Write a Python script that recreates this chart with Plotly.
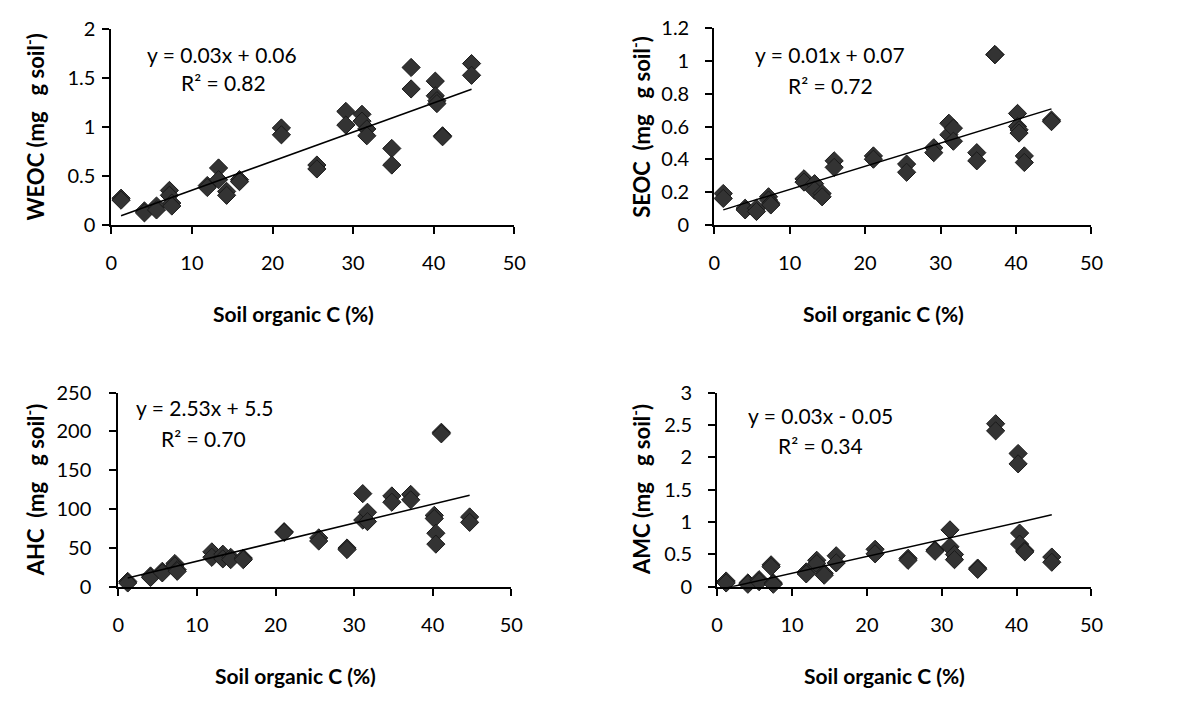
import plotly.graph_objects as go

# Soil organic C (%) for each sample (sites x 2 replicates)
soc = [1.2, 1.2, 4.1, 4.1, 5.6, 5.6, 7.2, 7.2, 7.5, 7.5,
       11.9, 11.9, 13.3, 13.3, 14.3, 14.3, 15.9, 15.9, 21.1, 21.1,
       25.5, 25.5, 29.1, 29.1, 31.1, 31.1, 31.7, 31.7, 34.8, 34.8,
       37.2, 37.2, 40.2, 40.2, 40.4, 40.4, 41.1, 41.1, 44.7, 44.7]

weoc = [0.27, 0.25, 0.14, 0.12, 0.19, 0.15, 0.35, 0.30, 0.22, 0.19,
        0.40, 0.38, 0.58, 0.46, 0.34, 0.30, 0.46, 0.44, 0.99, 0.92,
        0.61, 0.57, 1.16, 1.02, 1.13, 1.06, 0.98, 0.91, 0.78, 0.61,
        1.61, 1.39, 1.47, 1.32, 1.27, 1.24, 0.91, 0.90, 1.65, 1.53]

seoc = [0.19, 0.16, 0.10, 0.09, 0.10, 0.08, 0.17, 0.15, 0.13, 0.12,
        0.28, 0.26, 0.25, 0.21, 0.19, 0.17, 0.39, 0.35, 0.42, 0.40,
        0.37, 0.32, 0.47, 0.44, 0.62, 0.55, 0.59, 0.51, 0.44, 0.39,
        1.04, 1.04, 0.68, 0.60, 0.58, 0.56, 0.42, 0.38, 0.64, 0.63]

ahc = [7, 5, 14, 12, 20, 18, 30, 27, 22, 20,
       45, 38, 42, 36, 38, 35, 37, 35, 71, 70,
       63, 59, 50, 48, 120, 86, 96, 84, 117, 109,
       119, 112, 92, 88, 69, 55, 199, 197, 90, 83]

amc = [0.09, 0.06, 0.06, 0.04, 0.11, 0.08, 0.34, 0.31, 0.06, 0.04,
       0.23, 0.20, 0.41, 0.36, 0.21, 0.18, 0.48, 0.37, 0.58, 0.51,
       0.44, 0.41, 0.57, 0.55, 0.88, 0.62, 0.50, 0.42, 0.29, 0.27,
       2.52, 2.41, 2.06, 1.90, 0.83, 0.66, 0.56, 0.54, 0.46, 0.38]

# trend lines (slope, intercept) as drawn
fit_slope = [0.0298, 0.0142, 2.45, 0.026]
fit_intercept = [0.054, 0.073, 8.5, -0.05]

equations = ["y = 0.03x + 0.06", "y = 0.01x + 0.07", "y = 2.53x + 5.5", "y = 0.03x - 0.05"]
r2_labels = ["R² = 0.82", "R² = 0.72", "R² = 0.70", "R² = 0.34"]

SP = "\u00a0"
ytitles = ["WEOC (mg" + SP * 3 + "g soil<sup>-</sup>)",
           "SEOC" + SP * 2 + "(mg" + SP * 3 + "g soil<sup>-</sup>)",
           "AHC" + SP * 2 + "(mg" + SP * 3 + "g soil<sup>-</sup>)",
           "AMC (mg" + SP * 3 + "g soil<sup>-</sup>)"]
xtitle = "Soil organic C (%)"

yranges = [[0, 2], [0, 1.2], [0, 250], [0, 3]]
ydticks = [0.5, 0.2, 50, 0.5]

W, H = 1200, 707
# plot areas in pixels: (x0, x1, ytop, ybottom)
areas = [(107, 516, 17, 219), (719, 1102, 16, 219), (114, 513, 393, 594), (722, 1102, 393, 594)]
ytitle_x = [29, 644, 29, 644]
ylab_standoff = [3, 12, 14, 12]
eq_pos = [((219, 43), (221, 72)), ((837, 43), (837, 75)), ((202, 408), (201, 440)), ((827, 417), (827, 448))]

FONT = "Lato"
TICK = 20
TXT = 21
yseries = [weoc, seoc, ahc, amc]

fig = go.Figure()
annotations = []
layout = {}
for i in range(4):
    n = "" if i == 0 else str(i + 1)
    x0, x1, yt, yb = areas[i]
    xa = dict(domain=[x0 / W, x1 / W], range=[0, 50], dtick=10, showgrid=False, zeroline=False,
              showline=True, linecolor="black", linewidth=2, ticks="outside", ticklen=7,
              tickwidth=2, tickcolor="black", ticklabelstandoff=12,
              tickfont=dict(family=FONT, size=TICK, color="black"), anchor="y" + n)
    ya = dict(domain=[(H - yb) / H, (H - yt) / H], range=yranges[i], dtick=ydticks[i],
              showgrid=False, zeroline=False, showline=True, linecolor="black", linewidth=2,
              ticks="outside", ticklen=7, tickwidth=2, tickcolor="black",
              ticklabelstandoff=ylab_standoff[i],
              tickfont=dict(family=FONT, size=TICK, color="black"), anchor="x" + n)
    layout["xaxis" + n] = xa
    layout["yaxis" + n] = ya

    fig.add_trace(go.Scatter(x=soc, y=yseries[i], mode="markers", xaxis="x" + n, yaxis="y" + n,
                             marker=dict(symbol="diamond", size=14, color="#333333",
                                         line=dict(color="#1a1a1a", width=1)),
                             showlegend=False, cliponaxis=False))
    xmin, xmax = min(soc), max(soc)
    fig.add_trace(go.Scatter(x=[xmin, xmax],
                             y=[fit_slope[i] * xmin + fit_intercept[i], fit_slope[i] * xmax + fit_intercept[i]],
                             mode="lines", line=dict(color="black", width=1.5),
                             xaxis="x" + n, yaxis="y" + n, showlegend=False))

    annotations.append(dict(text="<b>" + ytitles[i] + "</b>", x=ytitle_x[i] / W, y=(H - (yt + yb) / 2) / H,
                            xref="paper", yref="paper", textangle=-90, showarrow=False,
                            font=dict(family=FONT, size=22, color="black"), xanchor="center", yanchor="middle"))
    annotations.append(dict(text="<b>" + xtitle + "</b>", x=((x0 + x1) / 2 - 20) / W, y=(H - (yb + 92)) / H,
                            xref="paper", yref="paper", showarrow=False,
                            font=dict(family=FONT, size=TXT, color="black"), xanchor="center", yanchor="middle"))
    (ex, ey), (rx, ry) = eq_pos[i]
    annotations.append(dict(text=equations[i], x=ex / W, y=(H - ey) / H, xref="paper", yref="paper",
                            showarrow=False, font=dict(family=FONT, size=TXT, color="black"),
                            xanchor="center", yanchor="middle"))
    annotations.append(dict(text=r2_labels[i], x=rx / W, y=(H - ry) / H, xref="paper", yref="paper",
                            showarrow=False, font=dict(family=FONT, size=TXT, color="black"),
                            xanchor="center", yanchor="middle"))

fig.update_layout(width=W, height=H, margin=dict(l=0, r=0, t=0, b=0),
                  paper_bgcolor="white", plot_bgcolor="white", annotations=annotations, **layout)
fig.write_html("out.html")
